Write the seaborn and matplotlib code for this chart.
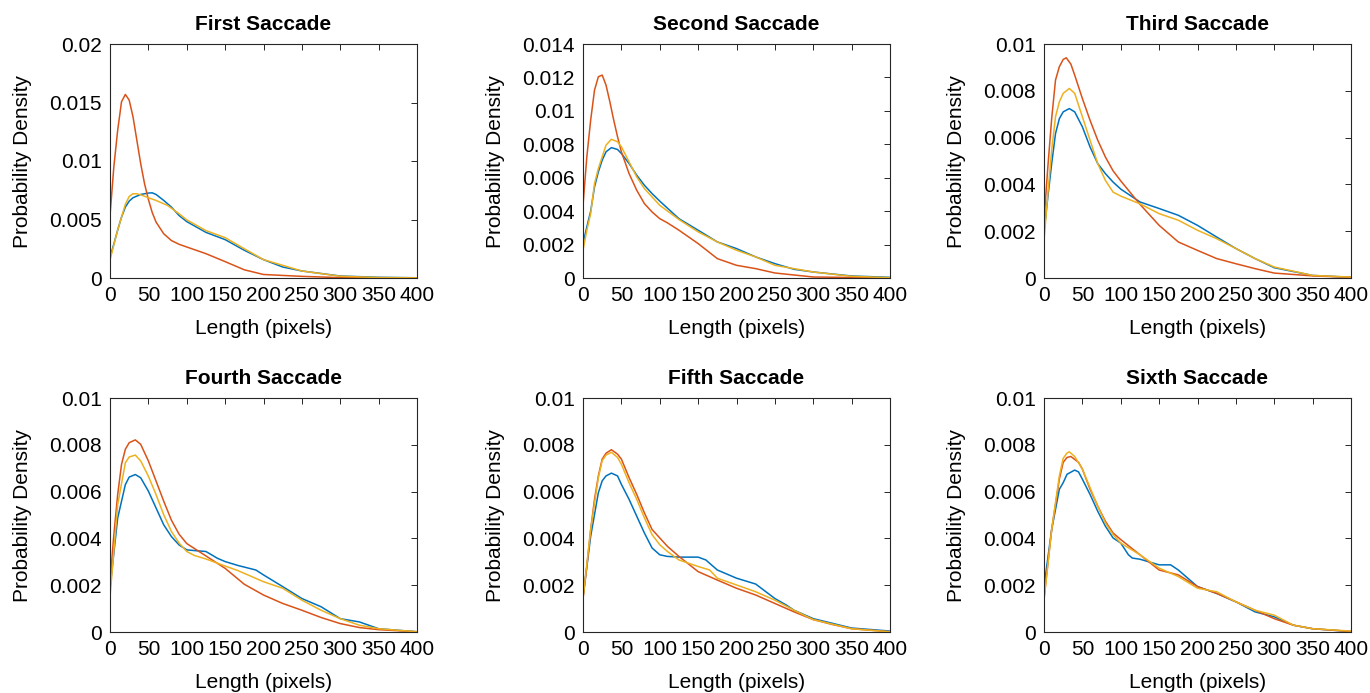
"""
Saccade length distributions, six panels (first to sixth saccade).
"""

import pandas as pd
import matplotlib
matplotlib.use("Agg")
import matplotlib.pyplot as plt
from matplotlib.ticker import FormatStrFormatter
import seaborn as sns

titles = ["First Saccade", "Second Saccade", "Third Saccade",
          "Fourth Saccade", "Fifth Saccade", "Sixth Saccade"]
y_max = [0.02, 0.014, 0.01, 0.01, 0.01, 0.01]
y_step = [0.005, 0.002, 0.002, 0.002, 0.002, 0.002]
x_ticks = [0, 50, 100, 150, 200, 250, 300, 350, 400]

# First saccade
first_blue_x = [0, 5, 10, 15, 20, 25, 30, 40, 50, 55, 60, 70, 80, 90, 100, 125, 150, 175,
                200, 225, 250, 300, 350, 400]
first_blue_y = [0.00177, 0.0029, 0.0041, 0.0052, 0.00606, 0.00657, 0.00686, 0.00714, 0.00726,
                0.00728, 0.00714, 0.00663, 0.00606, 0.00534, 0.00482, 0.0039, 0.00328, 0.00237,
                0.00157, 0.00094, 0.0006, 0.00017, 0.00006, 0.00002]
first_red_x = [0, 5, 10, 15, 20, 25, 30, 35, 40, 45, 50, 55, 60, 70, 80, 90, 100, 125, 150,
               175, 200, 250, 300, 400]
first_red_y = [0.00534, 0.0095, 0.01263, 0.01506, 0.01569, 0.0152, 0.01377, 0.01177, 0.00977,
               0.00806, 0.00672, 0.0056, 0.00478, 0.00378, 0.0032, 0.00288, 0.00265, 0.00208,
               0.0014, 0.0007, 0.0003, 0.00014, 0.00003, 0.0]
first_yellow_x = [0, 10, 20, 25, 30, 35, 40, 50, 60, 75, 90, 100, 125, 150, 175, 200, 250,
                  300, 350, 400]
first_yellow_y = [0.00154, 0.0041, 0.0063, 0.00697, 0.0072, 0.0072, 0.00711, 0.00686, 0.00663,
                  0.0062, 0.00549, 0.00497, 0.00405, 0.00345, 0.0025, 0.00157, 0.0006, 0.00015,
                  0.00004, 0.00001]

# Second saccade
second_blue_x = [0, 5, 10, 15, 20, 25, 30, 37, 45, 50, 60, 70, 80, 90, 100, 125, 150, 175,
                 200, 225, 250, 275, 300, 350, 400]
second_blue_y = [0.00206, 0.00306, 0.0040, 0.00545, 0.00635, 0.00705, 0.00755, 0.0078, 0.00769,
                 0.00745, 0.00685, 0.00615, 0.00555, 0.00505, 0.0046, 0.00355, 0.00286, 0.00216,
                 0.00176, 0.00126, 0.00086, 0.00052, 0.00036, 0.00012, 0.00004]
second_red_x = [0, 5, 10, 15, 20, 25, 30, 35, 40, 45, 50, 60, 70, 80, 90, 100, 110, 125, 150,
                175, 200, 225, 250, 300, 400]
second_red_y = [0.00435, 0.00725, 0.00945, 0.01124, 0.01204, 0.01214, 0.01154, 0.01054, 0.00945,
                0.00845, 0.00755, 0.00625, 0.00525, 0.00445, 0.00395, 0.00355, 0.0033, 0.00286,
                0.00206, 0.00116, 0.00076, 0.00056, 0.0003, 0.00006, 0.0]
second_yellow_x = [0, 5, 10, 15, 20, 25, 30, 37, 45, 50, 60, 70, 80, 90, 100, 125, 150, 175,
                   200, 225, 250, 300, 350, 400]
second_yellow_y = [0.00166, 0.00286, 0.00385, 0.00565, 0.00655, 0.00725, 0.00795, 0.0083,
                   0.00815, 0.00785, 0.00695, 0.00605, 0.00535, 0.00485, 0.00435, 0.0035,
                   0.00276, 0.00216, 0.00166, 0.00126, 0.00076, 0.00036, 0.0001, 0.00002]

# Third saccade
third_blue_x = [0, 5, 10, 15, 20, 25, 33, 40, 50, 60, 70, 80, 90, 100, 125, 150, 175, 200,
                225, 250, 275, 300, 350, 400]
third_blue_y = [0.00196, 0.00346, 0.00489, 0.00617, 0.00681, 0.0071, 0.00724, 0.0071, 0.00646,
                0.0056, 0.00489, 0.00446, 0.0041, 0.0038, 0.00325, 0.00297, 0.00268, 0.00225,
                0.00175, 0.00126, 0.00083, 0.00044, 0.00011, 0.00003]
third_red_x = [0, 5, 10, 15, 20, 25, 29, 35, 40, 50, 60, 70, 80, 90, 100, 125, 150, 175, 200,
               225, 250, 275, 300, 350, 400]
third_red_y = [0.00246, 0.00474, 0.00681, 0.00846, 0.00903, 0.00934, 0.00941, 0.00914, 0.00867,
               0.00767, 0.00674, 0.00589, 0.00517, 0.00458, 0.00415, 0.00315, 0.00225, 0.00154,
               0.00118, 0.00083, 0.00061, 0.0004, 0.00021, 0.00009, 0.00003]
third_yellow_x = [0, 5, 10, 15, 20, 25, 33, 40, 50, 60, 70, 80, 90, 100, 125, 150, 175, 200,
                  225, 250, 275, 300, 350, 400]
third_yellow_y = [0.0016, 0.0036, 0.00546, 0.00689, 0.00753, 0.00789, 0.0081, 0.00789, 0.00689,
                  0.00589, 0.00489, 0.00417, 0.00367, 0.0035, 0.00317, 0.00275, 0.00247, 0.00204,
                  0.00168, 0.00126, 0.00083, 0.00047, 0.00011, 0.00004]

# Fourth saccade
fourth_blue_x = [0, 10, 20, 25, 33, 40, 50, 60, 70, 80, 90, 100, 110, 125, 140, 150, 167, 190,
                 200, 225, 250, 275, 300, 325, 350, 400]
fourth_blue_y = [0.00186, 0.00487, 0.0063, 0.00662, 0.00673, 0.00659, 0.00602, 0.0053, 0.00458,
                 0.00408, 0.00372, 0.00351, 0.00348, 0.00344, 0.00315, 0.00301, 0.00284, 0.00265,
                 0.00244, 0.00194, 0.00143, 0.00108, 0.00057, 0.00043, 0.00014, 0.00001]
fourth_red_x = [0, 5, 10, 15, 20, 25, 33, 40, 50, 60, 70, 80, 90, 100, 125, 150, 175, 200, 225,
                250, 275, 300, 325, 350, 400]
fourth_red_y = [0.00215, 0.00415, 0.00587, 0.00716, 0.00781, 0.00809, 0.00821, 0.00802, 0.00731,
                0.00645, 0.00559, 0.00478, 0.00418, 0.00378, 0.00325, 0.00272, 0.00204, 0.00158,
                0.00122, 0.00093, 0.00062, 0.00036, 0.00019, 0.0001, 0.00001]
fourth_yellow_x = [0, 10, 20, 25, 33, 40, 50, 60, 70, 80, 90, 100, 110, 125, 150, 167, 200, 225,
                   250, 275, 300, 325, 350, 400]
fourth_yellow_y = [0.0015, 0.00544, 0.00723, 0.00748, 0.00756, 0.00731, 0.00666, 0.00587, 0.00501,
                   0.0043, 0.0038, 0.00344, 0.00327, 0.00312, 0.00282, 0.00262, 0.00215, 0.00187,
                   0.00136, 0.00093, 0.00057, 0.00029, 0.00014, 0.00001]

# Fifth saccade
fifth_blue_x = [0, 10, 20, 25, 30, 37, 45, 50, 60, 70, 80, 90, 100, 110, 125, 150, 160, 175,
                200, 225, 250, 265, 275, 300, 350, 400]
fifth_blue_y = [0.0015, 0.00409, 0.00595, 0.00646, 0.00667, 0.00679, 0.00667, 0.00631, 0.00567,
                0.00495, 0.00423, 0.00359, 0.0033, 0.00323, 0.0032, 0.0032, 0.00308, 0.00265,
                0.0023, 0.00205, 0.00143, 0.00115, 0.00093, 0.00057, 0.00017, 0.00004]
fifth_red_x = [0, 5, 10, 15, 20, 25, 30, 37, 45, 50, 60, 70, 80, 90, 100, 110, 125, 150, 175,
               200, 225, 250, 275, 300, 325, 350, 400]
fifth_red_y = [0.00143, 0.0028, 0.00438, 0.00567, 0.00667, 0.00739, 0.00764, 0.00779, 0.0076,
               0.00739, 0.0066, 0.00588, 0.00509, 0.00438, 0.00402, 0.00366, 0.00323, 0.00258,
               0.00222, 0.00187, 0.00158, 0.00122, 0.00086, 0.00053, 0.00032, 0.00014, 0.00001]
fifth_yellow_x = [0, 10, 20, 25, 30, 37, 45, 50, 60, 70, 80, 90, 100, 110, 125, 150, 165, 175,
                  200, 225, 250, 275, 300, 350, 400]
fifth_yellow_y = [0.00143, 0.00438, 0.0066, 0.00732, 0.00756, 0.00768, 0.00746, 0.00717, 0.00638,
                  0.00567, 0.00488, 0.00416, 0.00373, 0.00344, 0.00308, 0.0028, 0.00265, 0.0023,
                  0.00201, 0.00172, 0.00136, 0.00093, 0.00053, 0.00014, 0.00001]

# Sixth saccade
sixth_blue_x = [0, 10, 20, 25, 30, 40, 45, 50, 60, 70, 80, 90, 100, 110, 115, 125, 150, 165,
                175, 200, 225, 250, 275, 300, 325, 350, 400]
sixth_blue_y = [0.00194, 0.00438, 0.0061, 0.00638, 0.00674, 0.00692, 0.00684, 0.00653, 0.00588,
                0.00516, 0.00452, 0.00402, 0.0038, 0.0033, 0.00316, 0.00311, 0.00287, 0.00287,
                0.00265, 0.00194, 0.00165, 0.00129, 0.00086, 0.00065, 0.00029, 0.00014, 0.00002]
sixth_red_x = [0, 10, 20, 25, 30, 35, 45, 50, 60, 70, 80, 90, 100, 125, 150, 175, 200, 225,
               250, 275, 300, 325, 350, 400]
sixth_red_y = [0.00143, 0.00438, 0.00653, 0.00725, 0.00746, 0.0075, 0.00725, 0.00696, 0.0061,
               0.00538, 0.00473, 0.00423, 0.00395, 0.0033, 0.00265, 0.00244, 0.00194, 0.00165,
               0.00129, 0.00093, 0.00057, 0.00029, 0.00014, 0.00002]
sixth_yellow_x = [0, 10, 20, 25, 30, 33, 40, 50, 60, 70, 80, 90, 100, 125, 150, 175, 200, 225,
                  250, 275, 300, 325, 350, 400]
sixth_yellow_y = [0.00136, 0.00438, 0.00667, 0.00742, 0.00765, 0.0077, 0.0075, 0.00696, 0.00617,
                  0.00538, 0.00466, 0.00416, 0.0038, 0.0033, 0.00273, 0.00237, 0.00187, 0.00172,
                  0.00129, 0.00093, 0.00072, 0.00029, 0.00014, 0.00004]

panels = [
    [(first_blue_x, first_blue_y), (first_red_x, first_red_y), (first_yellow_x, first_yellow_y)],
    [(second_blue_x, second_blue_y), (second_red_x, second_red_y), (second_yellow_x, second_yellow_y)],
    [(third_blue_x, third_blue_y), (third_red_x, third_red_y), (third_yellow_x, third_yellow_y)],
    [(fourth_blue_x, fourth_blue_y), (fourth_red_x, fourth_red_y), (fourth_yellow_x, fourth_yellow_y)],
    [(fifth_blue_x, fifth_blue_y), (fifth_red_x, fifth_red_y), (fifth_yellow_x, fifth_yellow_y)],
    [(sixth_blue_x, sixth_blue_y), (sixth_red_x, sixth_red_y), (sixth_yellow_x, sixth_yellow_y)],
]
groups = ["blue", "red", "yellow"]
palette = {"blue": "#0072BD", "red": "#D95319", "yellow": "#EDB120"}

sns.set_theme(style="white")
plt.rcParams["font.family"] = ["Liberation Sans", "DejaVu Sans"]

W, H = 1370, 693
fig = plt.figure(figsize=(W / 100, H / 100), dpi=100)
col_left = [110, 583, 1044]
row_top = [44, 398]
ax_w, ax_h = 307, 234

for i, series in enumerate(panels):
    r, c = divmod(i, 3)
    ax = fig.add_axes([col_left[c] / W, (H - row_top[r] - ax_h) / H, ax_w / W, ax_h / H])

    frames = []
    for g, (xs, ys) in zip(groups, series):
        frames.append(pd.DataFrame({"Length": xs, "Density": ys, "Group": g}))
    df = pd.concat(frames, ignore_index=True)

    sns.lineplot(data=df, x="Length", y="Density", hue="Group", palette=palette,
                 estimator=None, legend=False, linewidth=1.1, ax=ax)

    ax.set_xlim(0, 400)
    ax.set_ylim(0, y_max[i])
    ax.set_xticks(x_ticks)
    n = int(round(y_max[i] / y_step[i]))
    ax.set_yticks([k * y_step[i] for k in range(n + 1)])
    ax.yaxis.set_major_formatter(FormatStrFormatter("%g"))

    ax.set_title(titles[i], fontsize=15, fontweight="bold", pad=10, color="black")
    ax.set_xlabel("Length (pixels)", fontsize=15, labelpad=10, color="black")
    ax.set_ylabel("Probability Density", fontsize=15, labelpad=12, color="black")

    ax.tick_params(direction="in", top=True, right=True, length=4, width=0.7,
                   labelsize=15, colors="#262626", pad=6)
    ax.tick_params(labelcolor="black")
    for s in ax.spines.values():
        s.set_color("#262626")
        s.set_linewidth(0.8)

fig.savefig("out.png", dpi=100, facecolor="white")
